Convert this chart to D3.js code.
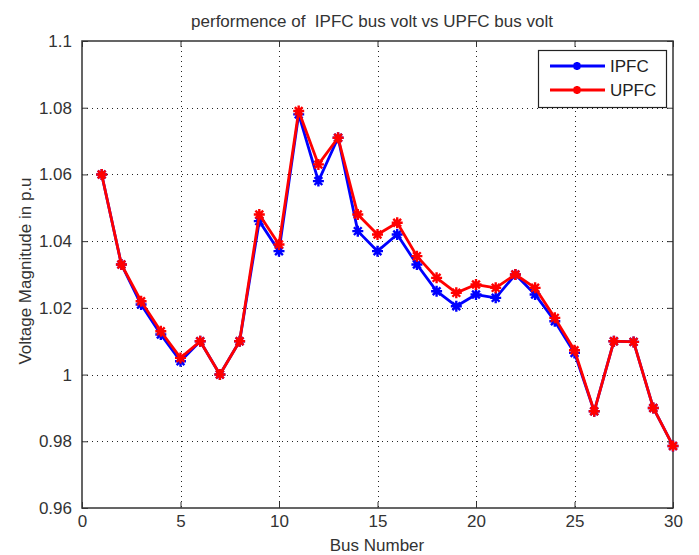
<!DOCTYPE html>
<html>
<head>
<meta charset="utf-8">
<script src="https://cdn.jsdelivr.net/npm/d3@7"></script>
<style>
  body { margin: 0; background: #fff; }
  svg { font-family: "Liberation Sans", Arial, sans-serif; }
  .title { white-space: pre; }
</style>
</head>
<body>
<svg id="chart" width="699" height="555"></svg>
<script>
// ── Data ──────────────────────────────────────────────────────────────────────
const buses = d3.range(1, 31);
const ipfc = [1.060, 1.033, 1.021, 1.012, 1.004, 1.010, 1.000, 1.010, 1.046, 1.037,
              1.078, 1.058, 1.071, 1.043, 1.037, 1.042, 1.033, 1.025, 1.0205, 1.024,
              1.023, 1.030, 1.024, 1.016, 1.0065, 0.989, 1.010, 1.0098, 0.990, 0.9786];
const upfc = [1.060, 1.033, 1.022, 1.013, 1.005, 1.010, 1.000, 1.010, 1.048, 1.039,
              1.079, 1.063, 1.071, 1.048, 1.042, 1.0455, 1.0355, 1.029, 1.0245, 1.027,
              1.026, 1.030, 1.026, 1.017, 1.0073, 0.989, 1.010, 1.0098, 0.990, 0.9786];
const xTicks = [0, 5, 10, 15, 20, 25, 30];
const yTicks = [0.96, 0.98, 1.00, 1.02, 1.04, 1.06, 1.08, 1.10];
const yTickLabels = ["0.96", "0.98", "1", "1.02", "1.04", "1.06", "1.08", "1.1"];
const seriesNames = ["IPFC", "UPFC"];
const seriesColors = ["#0000ff", "#ff0000"];

// ── Layout ────────────────────────────────────────────────────────────────────
const plot = { left: 82, right: 673, top: 41, bottom: 508 };
const svg = d3.select("#chart");

const x = d3.scaleLinear().domain([0, 30]).range([plot.left, plot.right]);
const y = d3.scaleLinear().domain([0.96, 1.1]).range([plot.bottom, plot.top]);

// Grid
const grid = svg.append("g").attr("stroke", "#222").attr("stroke-width", 1)
  .attr("stroke-dasharray", "1,4");
grid.selectAll(".gx").data(xTicks.slice(1, -1)).join("line")
  .attr("x1", (d) => Math.round(x(d)) + 0.5).attr("x2", (d) => Math.round(x(d)) + 0.5)
  .attr("y1", plot.top).attr("y2", plot.bottom);
grid.selectAll(".gy").data(yTicks.slice(1, -1)).join("line")
  .attr("y1", (d) => Math.round(y(d)) + 0.5).attr("y2", (d) => Math.round(y(d)) + 0.5)
  .attr("x1", plot.left).attr("x2", plot.right);

// Axes (MATLAB-style box with inward ticks)
const axisColor = "#333";
function styleAxis(g) {
  g.select(".domain").remove();
  g.selectAll(".tick line").attr("stroke", axisColor);
  g.selectAll(".tick text").attr("fill", "#333").attr("font-size", 17);
}
svg.append("g").attr("transform", `translate(0,${plot.bottom})`)
  .call(d3.axisBottom(x).tickValues(xTicks).tickSizeInner(-6).tickPadding(7))
  .call(styleAxis);
svg.append("g").attr("transform", `translate(0,${plot.top})`)
  .call(d3.axisTop(x).tickValues(xTicks).tickSizeInner(-6).tickFormat(""))
  .call(styleAxis);
svg.append("g").attr("transform", `translate(${plot.left},0)`)
  .call(d3.axisLeft(y).tickValues(yTicks).tickSizeInner(-6).tickPadding(10)
    .tickFormat((d, i) => yTickLabels[i]))
  .call(styleAxis);
svg.append("g").attr("transform", `translate(${plot.right},0)`)
  .call(d3.axisRight(y).tickValues(yTicks).tickSizeInner(-6).tickFormat(""))
  .call(styleAxis);

svg.append("rect")
  .attr("x", plot.left).attr("y", plot.top)
  .attr("width", plot.right - plot.left).attr("height", plot.bottom - plot.top)
  .attr("fill", "none").attr("stroke", axisColor).attr("stroke-width", 1.5);

// ── Series ────────────────────────────────────────────────────────────────────
const star = (r) => {
  const a = r * Math.SQRT1_2;
  return `M${-r},0L${r},0M0,${-r}L0,${r}M${-a},${-a}L${a},${a}M${-a},${a}L${a},${-a}`;
};
const line = d3.line().x((d) => x(d[0])).y((d) => y(d[1]));

[ipfc, upfc].forEach((vals, si) => {
  const pts = buses.map((b, i) => [b, vals[i]]);
  const g = svg.append("g");
  g.append("path").datum(pts).attr("d", line)
    .attr("fill", "none").attr("stroke", seriesColors[si]).attr("stroke-width", 2.8)
    .attr("stroke-linejoin", "round");
  g.selectAll("path.m").data(pts).join("path").attr("class", "m")
    .attr("d", star(5.5))
    .attr("transform", (d) => `translate(${x(d[0])},${y(d[1])})`)
    .attr("stroke", seriesColors[si]).attr("stroke-width", 2.4).attr("fill", "none");
});

// ── Legend ────────────────────────────────────────────────────────────────────
const legend = svg.append("g");
legend.append("rect").attr("x", 538.5).attr("y", 50.5).attr("width", 128).attr("height", 57)
  .attr("fill", "#fff").attr("stroke", "#222").attr("stroke-width", 1.2);
seriesNames.forEach((name, i) => {
  const ly = 66 + i * 24;
  legend.append("line").attr("x1", 550).attr("x2", 605).attr("y1", ly).attr("y2", ly)
    .attr("stroke", seriesColors[i]).attr("stroke-width", 2.8);
  legend.append("path").attr("d", star(4)).attr("transform", `translate(577,${ly})`)
    .attr("stroke", seriesColors[i]).attr("stroke-width", 2.6).attr("fill", "none");
  legend.append("text").attr("x", 610).attr("y", ly + 6).attr("font-size", 17)
    .attr("fill", "#222").text(name);
});

// ── Titles ────────────────────────────────────────────────────────────────────
svg.append("text").attr("class", "title").attr("x", 372).attr("y", 27)
  .attr("text-anchor", "middle").attr("font-size", 17).attr("fill", "#333")
  .text("performence of  IPFC bus volt vs UPFC bus volt");
svg.append("text").attr("x", 377).attr("y", 551).attr("text-anchor", "middle")
  .attr("font-size", 17).attr("fill", "#333").text("Bus Number");
svg.append("text").attr("transform", `translate(31,271) rotate(-90)`)
  .attr("text-anchor", "middle").attr("font-size", 17).attr("fill", "#333")
  .text("Voltage Magnitude in p.u");
</script>
</body>
</html>
